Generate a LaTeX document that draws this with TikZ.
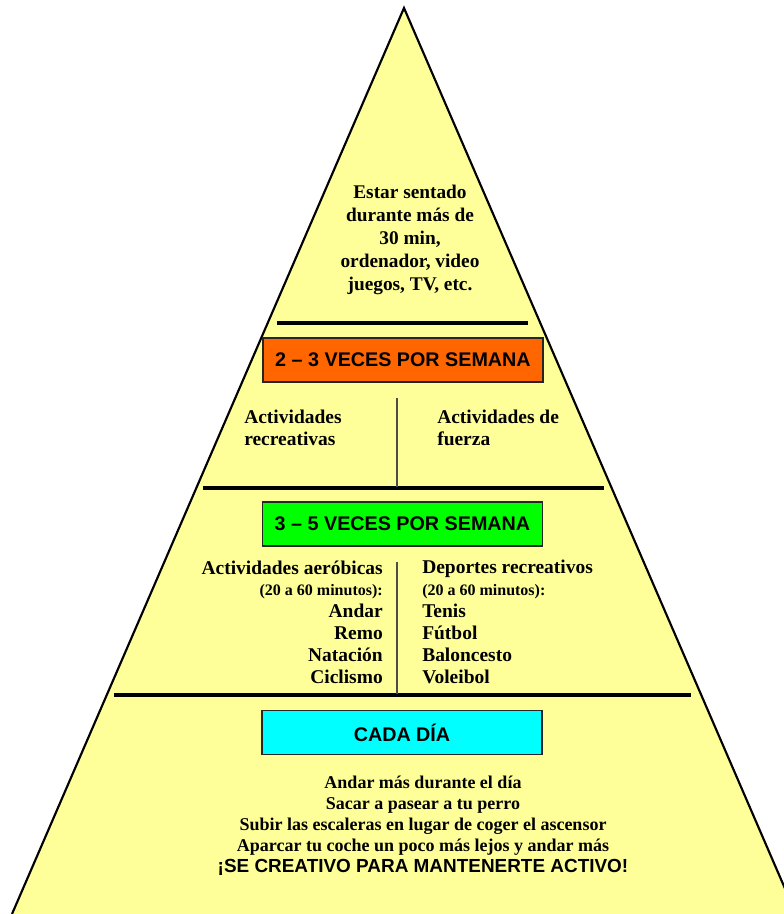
\documentclass[tikz,border=0pt]{standalone}
\usepackage{fontspec}
\setmainfont{Liberation Serif}
\setsansfont{Liberation Sans}
\definecolor{pyryellow}{HTML}{FFFF99}
\definecolor{hdrorange}{HTML}{FF6600}
\definecolor{hdrgreen}{HTML}{00FF00}
\definecolor{hdrcyan}{HTML}{00FFFF}
\tikzset{
  hdrbox/.style={draw=black!85,line width=.8pt,minimum width=210pt,minimum height=33pt,
    inner sep=0pt,font=\sffamily\bfseries\fontsize{14.8}{16}\selectfont},
  sepline/.style={line width=2.4pt},
  midline/.style={line width=.8pt,black!70},
  bodytext/.style={inner sep=0pt,font=\bfseries\fontsize{14.6}{16.4}\selectfont}
}
\begin{document}
\begin{tikzpicture}[x=.75pt,y=-.75pt]

\useasboundingbox (0,0) rectangle (784,914);
\clip (0,0) rectangle (784,914);

\coordinate (apex) at (404,8);
\coordinate (bl) at (12,914);
\coordinate (br) at (796,914);

\fill[pyryellow] (bl) -- (apex) -- (br) -- cycle;
\draw[line width=1.6pt,line join=miter] (bl) -- (apex) -- (br);

% separators
\draw[sepline] (277,323) -- (528,323);
\draw[sepline] (203,488) -- (604,488);
\draw[sepline] (114,695) -- (691,695);
\draw[midline] (397,398) -- (397,487);
\draw[midline] (397,562) -- (397,694);

% top
\node[bodytext,align=center,font=\bfseries\fontsize{14.5}{17.3}\selectfont] (sentado) at (410,240)
  {Estar sentado\\durante más de\\30 min,\\ordenador, video\\juegos, TV, etc.};

% 2-3 veces
\node[hdrbox,fill=hdrorange] (veces23) at (403,360) {2 – 3 VECES POR SEMANA};
\node[bodytext,align=left,anchor=west] (recreat) at (244,427.5) {Actividades\\recreativas};
\node[bodytext,align=left,anchor=west] (fuerza) at (437,427.5) {Actividades de\\fuerza};

% 3-5 veces
\node[hdrbox,fill=hdrgreen] (veces35) at (402.5,524) {3 – 5 VECES POR SEMANA};
\node[bodytext,align=right,anchor=east] (aerob) at (383,622)
  {Actividades aeróbicas\\{\fontsize{12}{16.4}\selectfont (20 a 60 minutos):}\\Andar\\Remo\\Natación\\Ciclismo};
\node[bodytext,align=left,anchor=west] (deport) at (422,622)
  {Deportes recreativos\\{\fontsize{12}{16.4}\selectfont (20 a 60 minutos):}\\Tenis\\Fútbol\\Baloncesto\\Voleibol};

% cada dia
\node[hdrbox,fill=hdrcyan] (cadadia) at (402,732.5) {CADA DÍA};
\node[inner sep=0pt,align=center,font=\bfseries\fontsize{13.5}{15.8}\selectfont] (consejos) at (423,826)
  {Andar más durante el día\\Sacar a pasear a tu perro\\Subir las escaleras en lugar de coger el ascensor\\
   Aparcar tu coche un poco más lejos y andar más\\
   {\sffamily\fontsize{14.2}{15.8}\selectfont ¡SE CREATIVO PARA MANTENERTE ACTIVO!}};

\end{tikzpicture}
\end{document}
